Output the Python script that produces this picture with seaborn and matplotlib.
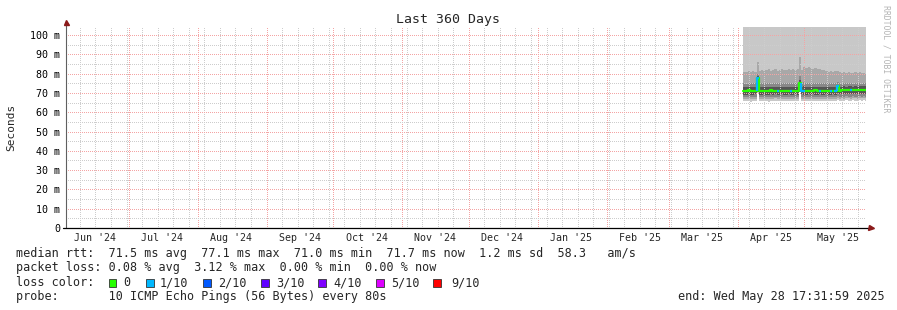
import matplotlib
matplotlib.use('Agg')
import matplotlib.pyplot as plt
import matplotlib.dates as mdates
from matplotlib.ticker import MultipleLocator, FuncFormatter
from matplotlib.patches import Rectangle
import seaborn as sns
import pandas as pd

sns.set_style('white')
plt.rcParams['font.family'] = ['DejaVu Sans Mono', 'DejaVu Sans']

# ---------------- data ----------------
title = "Last 360 Days"
y_label = "Seconds"
end_time = pd.Timestamp('2025-05-28 17:31:59')
span_days = 360
first_sample = '2025-04-03 12:00'

month_starts = ['2024-06-01', '2024-07-01', '2024-08-01', '2024-09-01', '2024-10-01',
                '2024-11-01', '2024-12-01', '2025-01-01', '2025-02-01', '2025-03-01',
                '2025-04-01', '2025-05-01']
month_labels = ["Jun '24", "Jul '24", "Aug '24", "Sep '24", "Oct '24", "Nov '24",
                "Dec '24", "Jan '25", "Feb '25", "Mar '25", "Apr '25", "May '25"]

# median rtt (ms), one value per day
median = [71.2, 71.0, 71.3, 71.1, 71.0, 71.2, 77.6, 71.1, 71.0, 71.2,
          70.9, 71.1, 71.3, 71.0, 71.2, 71.0, 70.9, 71.1, 71.2, 71.0,
          71.1, 70.9, 71.0, 71.2, 71.1, 75.2, 71.0, 71.1, 70.9, 71.2,
          71.0, 71.1, 71.3, 71.0, 71.1, 71.2, 70.9, 71.0, 71.1, 71.2,
          71.0, 71.1, 73.6, 71.2, 71.3, 71.4, 71.5, 71.3, 71.4, 71.5,
          71.4, 71.3, 71.5, 71.4, 71.6, 71.7]
# lost pings out of 10
loss = [0, 0, 0, 0, 0, 0, 1, 0, 0, 0,
        0, 0, 0, 0, 0, 1, 0, 0, 0, 0,
        0, 1, 0, 0, 0, 0, 1, 1, 0, 0,
        0, 0, 0, 0, 1, 0, 0, 0, 0, 1,
        0, 1, 1, 0, 0, 0, 0, 0, 1, 0,
        0, 0, 0, 0, 0, 0]
# sorted ping values (smoke)
ping10 = [118.0, 118.0, 118.0, 118.0, 118.0, 118.0, 118.0, 118.0, 118.0, 118.0,
          118.0, 118.0, 118.0, 118.0, 118.0, 118.0, 118.0, 118.0, 118.0, 118.0,
          118.0, 118.0, 118.0, 118.0, 118.0, 118.0, 118.0, 118.0, 118.0, 118.0,
          118.0, 118.0, 118.0, 118.0, 118.0, 118.0, 118.0, 118.0, 118.0, 118.0,
          118.0, 118.0, 118.0, 118.0, 118.0, 118.0, 118.0, 118.0, 118.0, 118.0,
          118.0, 118.0, 118.0, 118.0, 118.0, 118.0]
ping9 = [81.0, 80.6, 81.2, 80.8, 81.5, 81.0, 86.0, 81.5, 82.0, 81.4,
         81.8, 82.2, 81.6, 81.9, 82.3, 81.5, 81.8, 82.4, 82.0, 81.7,
         82.3, 82.1, 82.6, 81.9, 82.4, 88.5, 82.0, 83.2, 82.8, 83.5,
         83.0, 82.6, 82.9, 82.2, 82.5, 81.8, 82.0, 81.4, 81.0, 81.3,
         80.8, 81.2, 81.6, 80.9, 80.4, 80.8, 80.2, 80.7, 80.5, 80.1,
         80.6, 80.3, 80.8, 80.2, 80.5, 80.0]
ping8 = [75.0, 74.8, 75.1, 74.9, 75.2, 75.0, 80.0, 75.1, 75.0, 74.9,
         75.2, 75.0, 74.8, 75.1, 75.3, 75.0, 74.9, 75.2, 75.1, 74.9,
         75.0, 75.2, 75.3, 75.0, 75.1, 79.0, 75.2, 75.4, 75.1, 75.3,
         75.2, 75.0, 75.3, 75.1, 75.0, 75.2, 74.9, 75.0, 75.1, 74.9,
         75.0, 75.2, 75.8, 75.0, 74.8, 75.1, 74.9, 75.0, 75.2, 74.8,
         75.0, 74.9, 75.1, 74.8, 75.0, 74.9]
ping7 = [73.2, 73.0, 73.3, 73.1, 73.2, 73.1, 79.0, 73.2, 73.1, 73.0,
         73.3, 73.1, 73.0, 73.2, 73.3, 73.1, 73.0, 73.2, 73.3, 73.1,
         73.2, 73.1, 73.3, 73.2, 73.1, 76.5, 73.2, 73.4, 73.2, 73.3,
         73.2, 73.1, 73.3, 73.2, 73.1, 73.3, 73.0, 73.1, 73.2, 73.1,
         73.2, 73.3, 74.2, 73.3, 73.2, 73.4, 73.3, 73.4, 73.5, 73.3,
         73.4, 73.3, 73.5, 73.4, 73.5, 73.4]
ping4 = [69.1, 69.0, 69.2, 69.0, 69.1, 69.2, 70.5, 69.1, 69.0, 69.2,
         69.1, 69.0, 69.2, 69.1, 69.3, 69.0, 69.1, 69.2, 69.0, 69.1,
         69.2, 69.0, 69.1, 69.2, 69.1, 70.6, 69.2, 69.1, 69.0, 69.2,
         69.1, 69.2, 69.0, 69.1, 69.2, 69.1, 69.0, 69.2, 69.1, 69.0,
         69.2, 69.1, 69.8, 69.2, 69.3, 69.2, 69.4, 69.3, 69.2, 69.4,
         69.3, 69.2, 69.4, 69.3, 69.4, 69.3]
ping3 = [67.9, 67.8, 68.0, 67.8, 67.9, 68.0, 70.4, 67.9, 67.8, 68.0,
         67.9, 67.8, 68.0, 67.9, 68.1, 67.8, 67.9, 68.0, 67.8, 67.9,
         68.0, 67.8, 67.9, 68.0, 67.9, 70.5, 68.0, 67.9, 67.8, 68.0,
         67.9, 68.0, 67.8, 67.9, 68.0, 67.9, 67.8, 68.0, 67.9, 67.8,
         68.0, 67.9, 68.5, 68.0, 68.1, 68.0, 68.2, 68.1, 68.0, 68.2,
         68.1, 68.0, 68.2, 68.1, 68.2, 68.1]
ping2 = [66.9, 66.8, 67.0, 66.7, 66.9, 67.0, 70.3, 66.9, 66.8, 67.0,
         66.8, 66.7, 67.0, 66.9, 67.1, 66.8, 66.9, 67.0, 66.8, 66.9,
         67.0, 66.8, 66.9, 67.0, 66.8, 70.4, 67.0, 66.9, 66.8, 67.0,
         66.9, 67.0, 66.8, 66.9, 67.0, 66.9, 66.8, 67.0, 66.9, 66.8,
         67.0, 66.9, 67.5, 67.0, 67.1, 67.0, 67.2, 67.1, 67.0, 67.2,
         67.1, 67.0, 67.2, 67.1, 67.2, 67.1]
ping1 = [65.8, 65.6, 65.9, 65.5, 65.8, 65.9, 70.2, 65.8, 65.7, 65.9,
         65.6, 65.5, 65.9, 65.8, 66.0, 65.6, 65.8, 65.9, 65.7, 65.8,
         65.9, 65.6, 65.8, 65.9, 65.7, 70.3, 65.9, 65.8, 65.6, 65.9,
         65.8, 65.9, 65.7, 65.8, 65.9, 65.8, 65.6, 65.9, 65.8, 65.7,
         65.9, 65.8, 66.4, 65.9, 66.0, 65.9, 66.1, 66.0, 65.9, 66.1,
         66.0, 65.9, 66.1, 66.0, 66.1, 66.0]

loss_colors = ['#26ff00', '#00b8ff', '#0059ff', '#5e00ff', '#7e00ff', '#dd00ff', '#ff0000']
loss_labels = ['0', '1/10', '2/10', '3/10', '4/10', '5/10', '9/10']
smoke_colors = ['#c8c8c8', '#a8a8a8', '#888888', '#555555']

legend_rows = [
    "median rtt:  71.5 ms avg  77.1 ms max  71.0 ms min  71.7 ms now  1.2 ms sd  58.3   am/s",
    "packet loss: 0.08 % avg  3.12 % max  0.00 % min  0.00 % now",
    "loss color:",
    "probe:       10 ICMP Echo Pings (56 Bytes) every 80s",
]
end_label = "end: Wed May 28 17:31:59 2025"
watermark = "RRDTOOL / TOBI OETIKER"

# ---------------- layout ----------------
W, H = 897, 310
AX_L, AX_R, AX_T, AX_B = 66, 866, 27, 228
PX_PER_MS = 1.93

fig = plt.figure(figsize=(W / 100, H / 100), dpi=100)
fig.patch.set_facecolor('white')
ax = fig.add_axes([AX_L / W, 1 - AX_B / H, (AX_R - AX_L) / W, (AX_B - AX_T) / H])
ax.set_facecolor('white')

start_time = end_time - pd.Timedelta(days=span_days)
ax.set_xlim(start_time, end_time)
ax.set_ylim(0, (AX_B - AX_T) / PX_PER_MS)

days = list(pd.date_range(first_sample, periods=len(median), freq='D'))
xs = days + [end_time]


def ext(v):
    return list(v) + [v[-1]]


bands = [(ping1, ping10), (ping2, ping9), (ping3, ping8), (ping4, ping7)]
for (lo, hi), c in zip(bands, smoke_colors):
    ax.fill_between(xs, ext(lo), ext(hi), step='post', color=c, lw=0, zorder=1)

df = pd.DataFrame({'t': xs, 'rtt': ext(median)})
sns.lineplot(data=df, x='t', y='rtt', drawstyle='steps-post', color=loss_colors[0],
             lw=1.6, ax=ax, zorder=3)
for i, l in enumerate(loss):
    if l > 0:
        prev = median[i - 1] if i > 0 else median[i]
        ax.plot([xs[i], xs[i], xs[i + 1]], [prev, median[i], median[i]],
                color=loss_colors[l], lw=1.6, zorder=4, solid_capstyle='butt')

# grid (rrdtool style dotted, on top of graph)
ax.xaxis.set_major_locator(mdates.MonthLocator())
ax.xaxis.set_minor_locator(mdates.WeekdayLocator(byweekday=mdates.SU))
ax.yaxis.set_major_locator(MultipleLocator(10))
ax.yaxis.set_minor_locator(MultipleLocator(5))
ax.set_axisbelow(False)
ax.grid(which='major', color='#f4a4a4', ls=(0.5, (1, 1)), lw=0.72, snap=True)
ax.grid(which='minor', color='#cdcdcd', ls=(0.5, (1, 1)), lw=0.72, snap=True)

ax.tick_params(axis='x', which='both', length=0, labelbottom=False)
ax.tick_params(axis='y', which='minor', length=0)
ax.tick_params(axis='y', which='major', length=2.2, width=0.72, pad=2.2,
               labelsize=7.2, color='#333333', labelcolor='black')
ax.yaxis.set_major_formatter(FuncFormatter(lambda v, p: '0' if v == 0 else f'{int(round(v))} m'))
ax.set_xlabel('')
ax.set_ylabel('')
for s in ax.spines.values():
    s.set_visible(False)

# month labels centered mid-month
xt = ax.get_xaxis_transform()
for ms_, lab in zip(month_starts, month_labels):
    ax.text(pd.Timestamp(ms_) + pd.Timedelta(days=15), -10 / (AX_B - AX_T), lab,
            transform=xt, ha='center', va='center', fontsize=7.2, clip_on=False)

# axis lines and arrows
hh = AX_B - AX_T
ww = AX_R - AX_L
ax.plot([0, 0], [0, (AX_B - 23) / hh], transform=ax.transAxes, color='#606060',
        lw=0.8, clip_on=False, zorder=5)
ax.plot([(63 - AX_L) / ww, (869 - AX_L) / ww], [0, 0], transform=ax.transAxes,
        color='black', lw=0.9, clip_on=False, zorder=5)
ax.plot([0], [(AX_B - 22) / hh], marker='^', ms=3.6, color='#8b1a1a',
        transform=ax.transAxes, clip_on=False, zorder=6)
ax.plot([(871 - AX_L) / ww], [0], marker='>', ms=3.6, color='#8b1a1a',
        transform=ax.transAxes, clip_on=False, zorder=6)

# texts
def ftext(x, y, s, **kw):
    fig.text(x / W, 1 - y / H, s, **kw)


ftext(448, 19, title, ha='center', va='center', fontsize=9.5)
ftext(11, 127, y_label, ha='center', va='center', rotation=90, fontsize=8)
ftext(886, 59, watermark, ha='center', va='center', rotation=270, fontsize=5.9,
      color='#b4b4b4')

row_y = [254, 268, 282.5, 296.5]
for s, yy in zip(legend_rows, row_y):
    ftext(16, yy, s, ha='left', va='center', fontsize=8.5)
ftext(678, 296.5, end_label, ha='left', va='center', fontsize=8.5)

box_x = [108.5, 146, 203, 261, 318, 376, 433]
lab_x = [123, 160, 218, 276, 333, 391, 451]
for bx, lx, c, lab in zip(box_x, lab_x, loss_colors, loss_labels):
    fig.patches.append(Rectangle((bx / W, 1 - (282.5 + 4) / H), 7.5 / W, 8 / H,
                                 transform=fig.transFigure, facecolor=c,
                                 edgecolor='#333333', lw=0.6))
    ftext(lx, 282.5, lab, ha='left', va='center', fontsize=8.5)

fig.savefig('out.png', dpi=100, facecolor='white')
